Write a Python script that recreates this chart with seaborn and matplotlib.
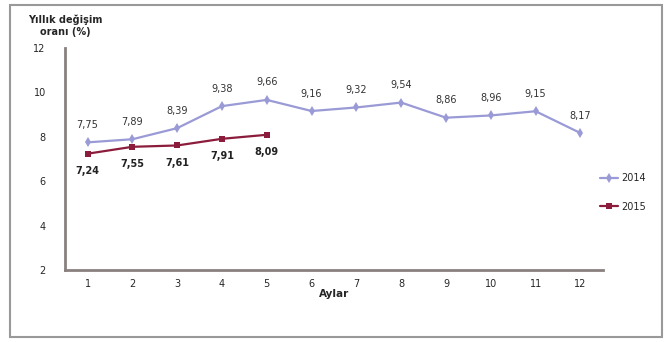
import numpy as np
import matplotlib
matplotlib.use("Agg")
import matplotlib.pyplot as plt
from matplotlib.patches import Rectangle
import seaborn as sns
import pandas as pd

# aylık yıllık değişim oranları
months = list(range(1, 13))
vals_2014 = [7.75, 7.89, 8.39, 9.38, 9.66, 9.16, 9.32, 9.54, 8.86, 8.96, 9.15, 8.17]
vals_2015 = [7.24, 7.55, 7.61, 7.91, 8.09]
series_names = ["2014", "2015"]
colors = {"2014": "#9a9ad6", "2015": "#8c1c3c"}

df = pd.DataFrame({
    "ay": months + months[:len(vals_2015)],
    "oran": vals_2014 + vals_2015,
    "yil": ["2014"] * len(vals_2014) + ["2015"] * len(vals_2015),
})

sns.set_style("white")
plt.rcParams['font.family'] = ['DejaVu Sans']

fig = plt.figure(figsize=(6.72, 3.42), dpi=100)
ax = fig.add_axes([0.097, 0.21, 0.80, 0.65])

sns.lineplot(data=df, x="ay", y="oran", hue="yil", style="yil",
             markers={"2014": "d", "2015": "s"}, dashes=False,
             palette=colors, markersize=5, linewidth=1.6, ax=ax,
             markeredgewidth=0)

# etiketler
for m, v in zip(months, vals_2014):
    ax.annotate(f"{v:.2f}".replace(".", ","), (m, v), xytext=(0, 9),
                textcoords="offset points", ha="center", va="bottom",
                fontsize=7, color="#333333")
for m, v in zip(months, vals_2015):
    ax.annotate(f"{v:.2f}".replace(".", ","), (m, v), xytext=(0, -9),
                textcoords="offset points", ha="center", va="top",
                fontsize=7, color="#222222", fontweight="bold")

ax.set_xlim(0.5, 12.5)
ax.set_ylim(2, 12)
ax.set_yticks([2, 4, 6, 8, 10, 12])
ax.set_xticks(months)
ax.set_xticks(np.arange(0.5, 13, 1), minor=True)
ax.tick_params(axis="x", which="major", length=0, labelsize=7, pad=6)
ax.tick_params(axis="x", which="minor", length=4, direction="inout", color="#777777")
ax.tick_params(axis="y", length=4, direction="inout", color="#777777", labelsize=7, pad=12)

for s in ["top", "right"]:
    ax.spines[s].set_visible(False)
for s in ["left", "bottom"]:
    ax.spines[s].set_color("#8a8080")
    ax.spines[s].set_linewidth(2)

ax.set_xlabel("Aylar", fontsize=7.5, fontweight="bold", labelpad=0)
ax.set_ylabel("")
ax.text(0.0, 1.05, "Yıllık değişim\noranı (%)", transform=ax.transAxes,
        fontsize=7, fontweight="bold", ha="center", va="bottom")

leg = ax.legend(title=None, loc="center left", bbox_to_anchor=(0.995, 0.35),
                frameon=False, fontsize=7, handlelength=1.8, handletextpad=0.4,
                borderaxespad=0, borderpad=0, labelspacing=1.9)

fig.patches.append(Rectangle((0.015, 0.015), 0.97, 0.97, transform=fig.transFigure,
                             fill=False, edgecolor="#999999", linewidth=1.5))

fig.savefig("out.png", dpi=100)
